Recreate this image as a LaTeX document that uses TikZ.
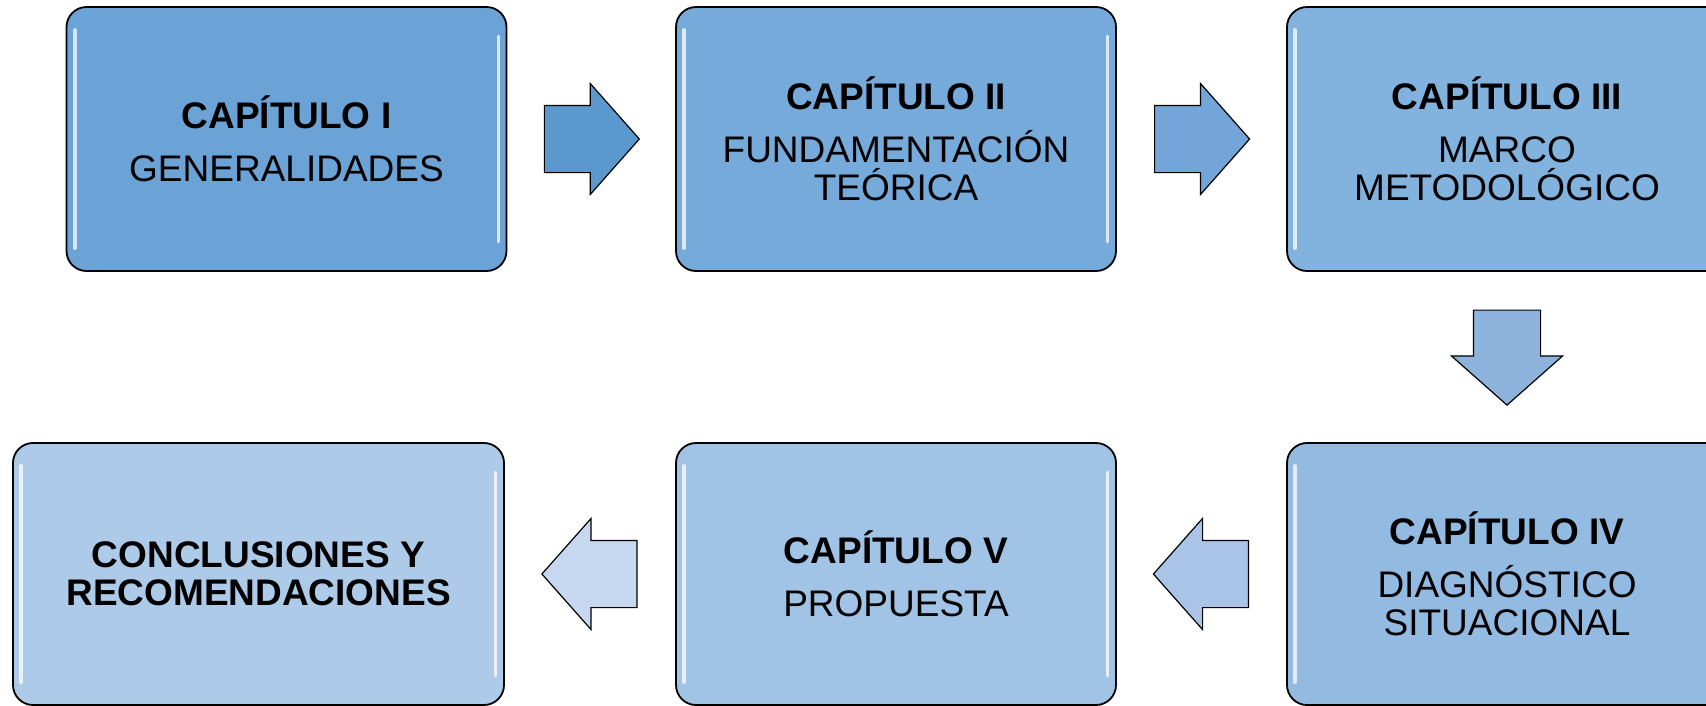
\documentclass[tikz,border=0pt]{standalone}
\usepackage{fontspec}
\setmainfont{Liberation Sans}
\usetikzlibrary{shapes.arrows,calc}

\definecolor{capI}{RGB}{108,163,214}
\definecolor{capII}{RGB}{118,170,218}
\definecolor{capIII}{RGB}{130,178,222}
\definecolor{capIV}{RGB}{147,186,225}
\definecolor{capV}{RGB}{161,195,229}
\definecolor{capfin}{RGB}{173,203,232}
\definecolor{flechaA}{RGB}{91,152,205}
\definecolor{flechaB}{RGB}{116,165,216}
\definecolor{flechaC}{RGB}{141,178,220}
\definecolor{flechaD}{RGB}{169,196,230}
\definecolor{flechaE}{RGB}{197,216,239}

\tikzset{
  chapbox/.style={draw=black, line width=1.8pt, rounded corners=20pt,
    minimum width=440pt, minimum height=264pt, inner sep=0pt,
    align=center, font=\fontsize{37}{38}\selectfont},
  flecha/.style={single arrow, draw=black, line width=1.2pt, anchor=tail,
    inner xsep=0pt, inner ysep=33pt, minimum height=95pt,
    single arrow head extend=22pt, single arrow tip angle=97},
  gloss/.style={white, line width=4pt, line cap=round, opacity=0.75},
}

\begin{document}
\begin{tikzpicture}[x=1pt, y=-1pt]
    \useasboundingbox (0,0) rectangle (1706,705);
    \clip (0,0) rectangle (1706,705);
    % first row
    \node[chapbox, fill=capI] (c1) at (286.5,139) {\textbf{CAPÍTULO I}\\[15pt]GENERALIDADES};
    \node[chapbox, fill=capII] (c2) at (896,139) {\textbf{CAPÍTULO II}\\[15pt]FUNDAMENTACIÓN\\TEÓRICA};
    \node[chapbox, fill=capIII] (c3) at (1507,139) {\textbf{CAPÍTULO III}\\[15pt]MARCO\\METODOLÓGICO};
    % second row
    \node[chapbox, fill=capIV, minimum height=262pt] (c4) at (1507,574) {\textbf{CAPÍTULO IV}\\[15pt]DIAGNÓSTICO\\SITUACIONAL};
    \node[chapbox, fill=capV, minimum height=262pt] (c5) at (896,574) {\textbf{CAPÍTULO V}\\[15pt]PROPUESTA};
    \node[chapbox, fill=capfin, minimum height=262pt, minimum width=491pt] (c6) at (258.5,574) {\textbf{CONCLUSIONES Y}\\\textbf{RECOMENDACIONES}};
    % glossy edges
    \draw[gloss] ([xshift=9pt,yshift=-24pt]c1.north west) -- ([xshift=9pt,yshift=24pt]c1.south west);
    \draw[gloss, line width=3pt] ([xshift=-9pt,yshift=-30pt]c1.north east) -- ([xshift=-9pt,yshift=30pt]c1.south east);
    \draw[gloss] ([xshift=9pt,yshift=-24pt]c2.north west) -- ([xshift=9pt,yshift=24pt]c2.south west);
    \draw[gloss, line width=3pt] ([xshift=-9pt,yshift=-30pt]c2.north east) -- ([xshift=-9pt,yshift=30pt]c2.south east);
    \draw[gloss] ([xshift=9pt,yshift=-24pt]c3.north west) -- ([xshift=9pt,yshift=24pt]c3.south west);
    \draw[gloss] ([xshift=9pt,yshift=-24pt]c4.north west) -- ([xshift=9pt,yshift=24pt]c4.south west);
    \draw[gloss] ([xshift=9pt,yshift=-24pt]c5.north west) -- ([xshift=9pt,yshift=24pt]c5.south west);
    \draw[gloss, line width=3pt] ([xshift=-9pt,yshift=-30pt]c5.north east) -- ([xshift=-9pt,yshift=30pt]c5.south east);
    \draw[gloss] ([xshift=9pt,yshift=-24pt]c6.north west) -- ([xshift=9pt,yshift=24pt]c6.south west);
    \draw[gloss, line width=3pt] ([xshift=-9pt,yshift=-30pt]c6.north east) -- ([xshift=-9pt,yshift=30pt]c6.south east);
    % block arrows, tail half a length before the gap's middle
    \node[flecha, fill=flechaA] (f12) at ($(c1.east)!0.5!(c2.west)+(-47.5,0)$) {};
    \node[flecha, fill=flechaB] (f23) at ($(c2.east)!0.5!(c3.west)+(-47.5,0)$) {};
    \node[flecha, fill=flechaC, rotate=-90] (f34) at ($(c3.south)!0.5!(c4.north)+(0,-47.5)$) {};
    \node[flecha, fill=flechaD, rotate=180] (f45) at ($(c4.west)!0.5!(c5.east)+(47.5,0)$) {};
    \node[flecha, fill=flechaE, rotate=180] (f56) at ($(c5.west)!0.5!(c6.east)+(47.5,0)$) {};
\end{tikzpicture}
\end{document}
